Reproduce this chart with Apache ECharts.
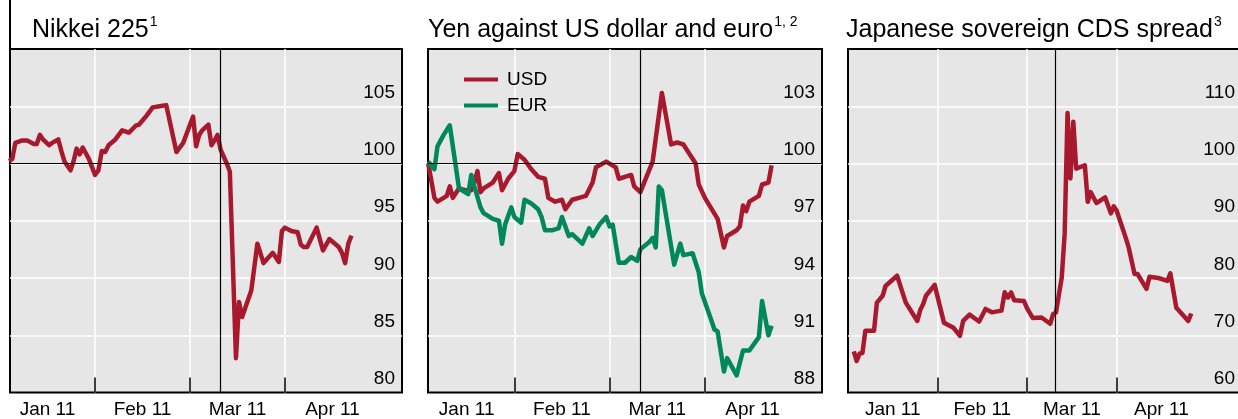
<!DOCTYPE html>
<html>
<head>
<meta charset="utf-8">
<script src="https://cdn.jsdelivr.net/npm/echarts@6.0.0/dist/echarts.min.js"></script>
<style>
html, body { margin: 0; padding: 0; background: #fff; }
#main { width: 1238px; height: 419px; }
</style>
</head>
<body>
<div id="main"></div>
<script>
// month labels on the x axes, months are drawn with equal width
var months = ['Jan 11', 'Feb 11', 'Mar 11', 'Apr 11'];
var monthDays = [31, 28, 31, 30];
var eventDate = '3/11';

var nikkeiDates = ['1/4','1/5','1/6','1/8','1/10','1/12','1/13','1/14','1/15','1/17','1/18','1/20','1/21','1/22','1/24','1/25','1/26','1/27','1/28','1/29','1/30',
    '2/1','2/2','2/3','2/4','2/5','2/7','2/9','2/11','2/13','2/14','2/16','2/18','2/20','2/22','2/25','2/26','2/27','2/28',
    '3/2','3/3','3/4','3/5','3/7','3/8','3/9','3/10','3/11','3/13','3/14','3/16','3/17','3/18','3/21','3/23','3/25','3/28','3/30','3/31',
    '4/1','4/3','4/5','4/6','4/7','4/8','4/11','4/13','4/15','4/18','4/19','4/20','4/21','4/22'];
var nikkei = [100.2,100.4,101.8,102.0,102.0,101.7,101.7,102.5,102.1,101.6,101.8,102.1,101.1,100.2,99.4,100.2,101.3,100.8,101.4,100.9,100.4,
    99.0,99.4,101.1,101.0,101.6,102.1,102.9,102.7,103.3,103.4,104.1,104.9,105.0,105.1,101.0,101.4,101.8,102.6,
    104.1,101.5,102.5,102.9,103.4,101.6,102.0,102.5,101.2,100.0,99.3,83.0,87.9,86.6,88.9,93.0,91.3,92.2,91.4,94.1,
    94.4,94.1,94.0,92.9,92.7,92.7,94.4,92.4,93.4,92.7,92.2,91.3,93.0,93.7];

var usdDates = ['1/4','1/6','1/7','1/9','1/10','1/11','1/12','1/14','1/16','1/18','1/19','1/20','1/21','1/22','1/25','1/27','1/28','1/30',
    '2/1','2/2','2/4','2/6','2/8','2/10','2/11','2/13','2/15','2/16','2/18','2/20','2/22','2/24','2/25','2/28',
    '3/3','3/4','3/6','3/8','3/9','3/11','3/15','3/18','3/21','3/23','3/25','3/27','3/29','3/30',
    '4/1','4/5','4/7','4/8','4/11','4/12','4/13','4/14','4/15','4/18','4/19','4/21','4/22'];
var usd = [100.0,98.2,98.0,98.2,98.3,98.8,98.2,98.7,98.6,98.6,99.0,99.6,98.5,98.7,99.0,99.5,98.6,99.2,
    99.6,100.5,100.2,99.7,99.3,99.2,98.2,98.0,98.1,97.6,98.1,98.2,98.3,99.0,99.8,100.1,
    99.8,99.2,99.3,99.4,98.8,98.5,100.1,103.7,101.0,101.1,101.0,100.5,100.0,98.9,
    98.2,97.1,95.6,96.2,96.5,96.7,97.8,97.5,98.0,98.3,98.9,99.0,99.9];

var eurDates = ['1/4','1/6','1/7','1/9','1/11','1/12','1/14','1/15','1/17','1/18','1/19','1/21','1/22','1/25','1/27','1/28','1/29','1/31',
    '2/1','2/3','2/4','2/6','2/8','2/9','2/10','2/12','2/14','2/15','2/17','2/18','2/21','2/23','2/24','2/26','2/28',
    '3/1','3/2','3/4','3/6','3/8','3/10','3/11','3/14','3/15','3/16','3/17','3/18','3/22','3/24','3/25','3/28','3/30','3/31',
    '4/3','4/4','4/5','4/7','4/8','4/11','4/13','4/15','4/18','4/19','4/21','4/22'];
var eur = [100.1,99.7,100.9,101.5,102.0,100.9,98.7,98.6,98.4,99.4,98.8,97.7,97.4,97.1,97.0,95.8,96.8,97.7,
    97.2,96.9,98.1,97.9,97.6,97.2,96.5,96.5,96.6,97.2,96.2,96.3,95.8,96.6,96.2,96.8,97.2,
    96.7,96.8,94.8,94.8,95.1,94.9,95.5,95.9,96.1,95.6,98.8,98.6,94.7,95.8,95.2,95.3,94.3,93.2,
    91.8,91.3,91.2,89.1,89.8,88.9,90.2,90.2,90.9,92.8,91.0,91.5];

var cdsDates = ['1/3','1/4','1/5','1/6','1/7','1/10','1/11','1/13','1/14','1/18','1/21','1/25','1/26','1/27','1/28','1/31',
    '2/3','2/6','2/8','2/9','2/11','2/14','2/16','2/18','2/21','2/22','2/23','2/24','2/25','2/28',
    '3/1','3/3','3/6','3/9','3/10','3/11','3/13','3/14','3/15','3/16','3/17','3/18','3/21','3/22','3/23','3/25','3/28','3/30','3/31',
    '4/1','4/4','4/5','4/7','4/8','4/11','4/12','4/15','4/18','4/19','4/21','4/25','4/26'];
var cds = [67.2,65.5,66.8,66.9,70.8,70.8,75.7,76.9,78.6,80.4,75.7,72.5,74.4,75.4,76.9,78.8,
    72.2,71.3,69.9,72.5,73.6,72.4,74.6,74.0,74.3,77.5,76.6,77.5,76.1,76.0,
    74.7,73.0,73.1,72.0,73.7,74.0,80.1,87.7,108.8,97.4,107.3,99.1,99.7,93.3,95.0,93.1,94.1,91.3,92.5,
    91.8,87.1,85.4,80.7,80.7,78.1,80.2,80.0,79.5,80.8,74.8,72.5,73.8];

// y scales: min, max, step
var nikkeiScale = [80, 110, 5];
var yenScale = [88, 106, 3];
var cdsScale = [60, 120, 10];

var font = 'Liberation Sans, Arial, sans-serif';
var red = '#a8192e';
var green = '#00885a';

function pos(d) {
    var p = d.split('/');
    var m = p[0] - 1;
    return m + (p[1] - 1) / monthDays[m];
}
function pairs(dates, vals) {
    return dates.map(function (d, i) { return [pos(d), vals[i]]; });
}

function xAxisFor(i, min, max) {
    return {
        type: 'value', gridIndex: i, min: min, max: max,
        axisLine: { show: false },
        axisTick: { show: true, inside: true, length: 15, customValues: [1, 2, 3],
            lineStyle: { color: '#000', width: 1.5 } },
        splitLine: { show: true, lineStyle: { color: '#fff', width: 1.5 } },
        axisLabel: {
            customValues: [0.5, 1.5, 2.5, 3.5], margin: 8, fontSize: 19, lineHeight: 19,
            color: '#000', fontFamily: font,
            formatter: function (v) { return months[Math.floor(v)]; }
        }
    };
}
function yAxisFor(i, s) {
    return {
        type: 'value', gridIndex: i, position: 'right', min: s[0], max: s[1], interval: s[2],
        axisLine: { show: false }, axisTick: { show: false },
        splitLine: { show: true, showMinLine: false, showMaxLine: false,
            lineStyle: { color: '#fff', width: 1.5 } },
        axisLabel: {
            inside: true, margin: 7, showMaxLabel: false, verticalAlign: 'bottom',
            padding: [0, 0, 4, 0], fontSize: 19, lineHeight: 19, color: '#000', fontFamily: font
        }
    };
}
function lineSeries(name, i, data, color) {
    return {
        name: name, type: 'line', xAxisIndex: i, yAxisIndex: i, data: data,
        showSymbol: false, z: 3,
        lineStyle: { color: color, width: 4.5, join: 'round' }, itemStyle: { color: color }
    };
}
// black reference lines (earthquake date, 100 level)
function marker(i, withHundred) {
    var d = [{ xAxis: pos(eventDate) }];
    if (withHundred) d.push({ yAxis: 100 });
    return {
        type: 'line', xAxisIndex: i, yAxisIndex: i, data: [], z: 2, silent: true,
        markLine: { silent: true, symbol: 'none', animation: false, label: { show: false },
            lineStyle: { color: '#000', width: 1.2, type: 'solid' }, data: d }
    };
}
function titleFor(left, main, sup) {
    return {
        text: '{t|' + main + '}{s|' + sup + '}', left: left, top: 15, padding: 0,
        textStyle: {
            fontWeight: 'normal',
            rich: {
                t: { fontSize: 25, lineHeight: 30, fontWeight: 'normal', color: '#000', fontFamily: font },
                s: { fontSize: 14, lineHeight: 20, fontWeight: 'normal', verticalAlign: 'top', color: '#000',
                    fontFamily: font, padding: [0, 0, 0, 1] }
            }
        }
    };
}

var gridBase = { top: 49, height: 343.5, show: true, backgroundColor: '#e6e6e6',
    borderColor: '#000', borderWidth: 2, outerBoundsMode: 'none', containLabel: false };

var myChart = echarts.init(document.getElementById('main'));

var option = {
    animation: false,
    textStyle: { fontFamily: font },
    title: [
        titleFor(32, 'Nikkei 225', '1'),
        titleFor(428, 'Yen against US dollar and euro', '1, 2'),
        titleFor(846, 'Japanese sovereign CDS spread', '3')
    ],
    legend: {
        data: ['USD', 'EUR'], orient: 'vertical', left: 464, top: 70, padding: 0,
        icon: 'rect', itemWidth: 34, itemHeight: 4, itemGap: 7,
        textStyle: { fontSize: 19, lineHeight: 19, color: '#000', fontFamily: font, padding: [0, 0, 0, 4] }
    },
    grid: [
        Object.assign({}, gridBase, { left: 10, width: 392 }),
        Object.assign({}, gridBase, { left: 428, width: 394 }),
        Object.assign({}, gridBase, { left: 848, width: 394 })
    ],
    xAxis: [
        xAxisFor(0, 0.105, 4.232),
        xAxisFor(1, 0.094, 4.229),
        xAxisFor(2, 0, 4.40)
    ],
    yAxis: [
        yAxisFor(0, nikkeiScale),
        yAxisFor(1, yenScale),
        yAxisFor(2, cdsScale)
    ],
    graphic: [
        { type: 'line', shape: { x1: 10, y1: 0, x2: 10, y2: 49 }, style: { stroke: '#000', lineWidth: 2 } }
    ],
    series: [
        marker(0, true),
        marker(1, true),
        marker(2, false),
        lineSeries('Nikkei 225', 0, pairs(nikkeiDates, nikkei), red),
        lineSeries('USD', 1, pairs(usdDates, usd), red),
        lineSeries('EUR', 1, pairs(eurDates, eur), green),
        lineSeries('CDS', 2, pairs(cdsDates, cds), red)
    ]
};

myChart.setOption(option);
</script>
</body>
</html>
